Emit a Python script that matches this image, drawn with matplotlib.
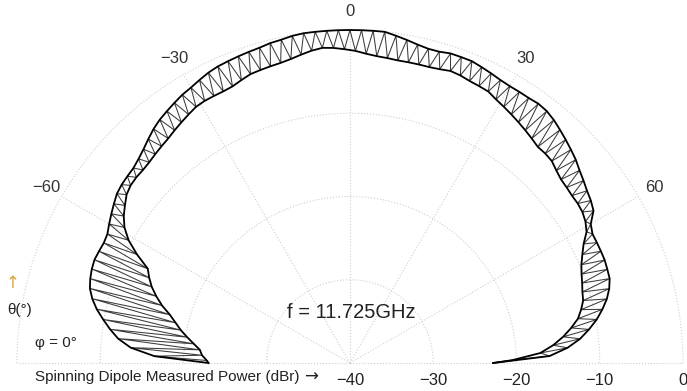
import numpy as np
import matplotlib.pyplot as plt

plt.rcParams['font.family'] = ['Liberation Sans', 'DejaVu Sans']

# envelope of the spinning-dipole trace (dBr), max at even angles, min at odd angles
theta_max = np.arange(-90, 91, 2)
p_max = [-23.0, -16.5, -13.6, -12.0, -10.9, -9.9, -8.9, -8.1, -7.5, -7.2,
         -7.0, -6.9, -7.0, -7.1, -7.0, -6.6, -6.2, -5.8, -5.4, -5.2,
         -5.1, -5.0, -4.7, -4.3, -3.8, -3.3, -2.9, -2.6, -2.3, -2.0,
         -1.8, -1.5, -1.2, -1.0, -0.9, -0.8, -0.7, -0.6, -0.4, -0.3,
         -0.1, 0.0, 0.0, 0.0, 0.0, 0.0, 0.0, 0.0, 0.0, -0.3,
         -0.6, -0.9, -1.1, -1.1, -0.9, -0.9, -0.9, -1.1, -1.3, -1.5,
         -1.6, -1.6, -1.6, -1.5, -1.6, -1.9, -2.3, -2.7, -3.1, -3.5,
         -4.0, -4.4, -4.8, -5.1, -5.5, -6.6, -7.0, -7.0, -7.0, -7.0,
         -7.1, -7.2, -7.6, -8.2, -9.0, -9.9, -11.0, -12.2, -13.8, -16.0,
         -22.8]

theta_min = np.arange(-89, 90, 2)
p_min = [-22.8, -22.2, -21.9, -21.1, -20.2, -19.3, -18.5, -17.6, -16.4, -15.4,
         -14.5, -13.8, -13.2, -11.3, -9.6, -8.4, -7.6, -7.0, -6.4, -6.1,
         -6.0, -6.0, -5.9, -5.7, -5.5, -5.3, -5.0, -4.7, -4.4, -4.1,
         -4.0, -4.0, -4.0, -3.9, -3.6, -3.3, -3.2, -3.1, -3.0, -2.8,
         -2.5, -2.2, -2.0, -2.1, -2.3, -2.5, -2.8, -3.0, -3.1, -3.2,
         -3.2, -3.2, -3.2, -3.1, -2.9, -3.0, -3.2, -3.3, -3.4, -3.8,
         -4.1, -4.4, -4.7, -5.0, -5.3, -5.6, -5.6, -5.7, -6.1, -6.4,
         -6.5, -6.6, -6.6, -6.7, -7.0, -7.5, -8.5, -9.2, -9.8, -10.2,
         -10.5, -10.8, -11.0, -11.5, -12.1, -13.1, -14.2, -15.5, -17.1, -20.5]

theta_ticks = [-60, -30, 0, 30, 60]
theta_labels = ['\u221260', '\u221230', '0', '30', '60']
r_ticks = [-40, -30, -20, -10, 0]
r_labels = ['\u221240', '\u221230', '\u221220', '\u221210', '0']

GRID = dict(color='#cfcfcf', linestyle=':', linewidth=0.8, clip_on=False)
R_MIN, R_MAX = -40, 0

fig = plt.figure(figsize=(6.87, 3.91), dpi=100)
# square box: the half-disc is fitted to its width and centred vertically
ax = fig.add_axes([0.0247, -0.3542, 0.9694, 1.7033], projection='polar')
ax.set_theta_zero_location('N')
ax.set_theta_direction(-1)
ax.set_thetamin(-90)
ax.set_thetamax(90)
ax.set_ylim(R_MIN, R_MAX)
ax.axis('off')

# dotted grid: rings, spokes and the baseline
arc = np.linspace(-np.pi / 2, np.pi / 2, 361)
for r in r_ticks[1:]:
    ax.plot(arc, np.full_like(arc, r), **GRID)
for deg in [-90] + theta_ticks + [90]:
    t = np.deg2rad(deg)
    ax.plot([t, t], [R_MIN, R_MAX], **GRID)

# angle labels outside the outer ring
for deg, lbl in zip(theta_ticks, theta_labels):
    t = np.deg2rad(deg)
    ax.annotate(lbl, xy=(t, R_MAX), xytext=(13 * np.sin(t), 13 * np.cos(t)),
                textcoords='offset points', ha='center', va='center',
                fontsize=12, color='#333333', annotation_clip=False)

# zigzag trace between the two envelopes
t_max = np.deg2rad(theta_max)
t_min = np.deg2rad(theta_min)
trace_t = np.empty(len(t_max) + len(t_min))
trace_r = np.empty_like(trace_t)
trace_t[0::2], trace_t[1::2] = t_max, t_min
trace_r[0::2], trace_r[1::2] = p_max, p_min
ax.plot(trace_t, trace_r, color='#3c3c3c', lw=0.75, clip_on=False)

# envelopes
ax.plot(t_max, p_max, color='black', lw=1.3, clip_on=False)
inner_t = np.concatenate([[t_max[0]], t_min, [t_max[-1]]])
inner_r = np.concatenate([[p_max[0]], p_min, [p_max[-1]]])
ax.plot(inner_t, inner_r, color='black', lw=1.3, clip_on=False)

# radial scale along the baseline
for r, lbl in zip(r_ticks, r_labels):
    ax.annotate(lbl, xy=(np.pi / 2, r), xytext=(0, -12.5), textcoords='offset points',
                ha='center', va='center', fontsize=12, color='#222222',
                annotation_clip=False)

fig.text(0.051, 0.036, 'Spinning Dipole Measured Power (dBr)', fontsize=11,
         ha='left', va='center', color='#222222')
fig.text(0.442, 0.036, '\u2192', fontsize=12, ha='left', va='center', color='#222222',
         family='DejaVu Sans')
fig.text(0.051, 0.123, '\u03c6 = 0\u00b0', fontsize=11, ha='left', va='center', color='#222222')
fig.text(0.010, 0.207, '\u03b8(\u00b0)', fontsize=11, ha='left', va='center', color='#222222')
fig.text(0.019, 0.276, '\u2191', fontsize=12, ha='center', va='center', color='#d9a441',
         family='DejaVu Sans')
fig.text(0.512, 0.1995, 'f = 11.725GHz', fontsize=14.5, ha='center', va='center', color='#222222')

fig.savefig('out.png', dpi=100)
